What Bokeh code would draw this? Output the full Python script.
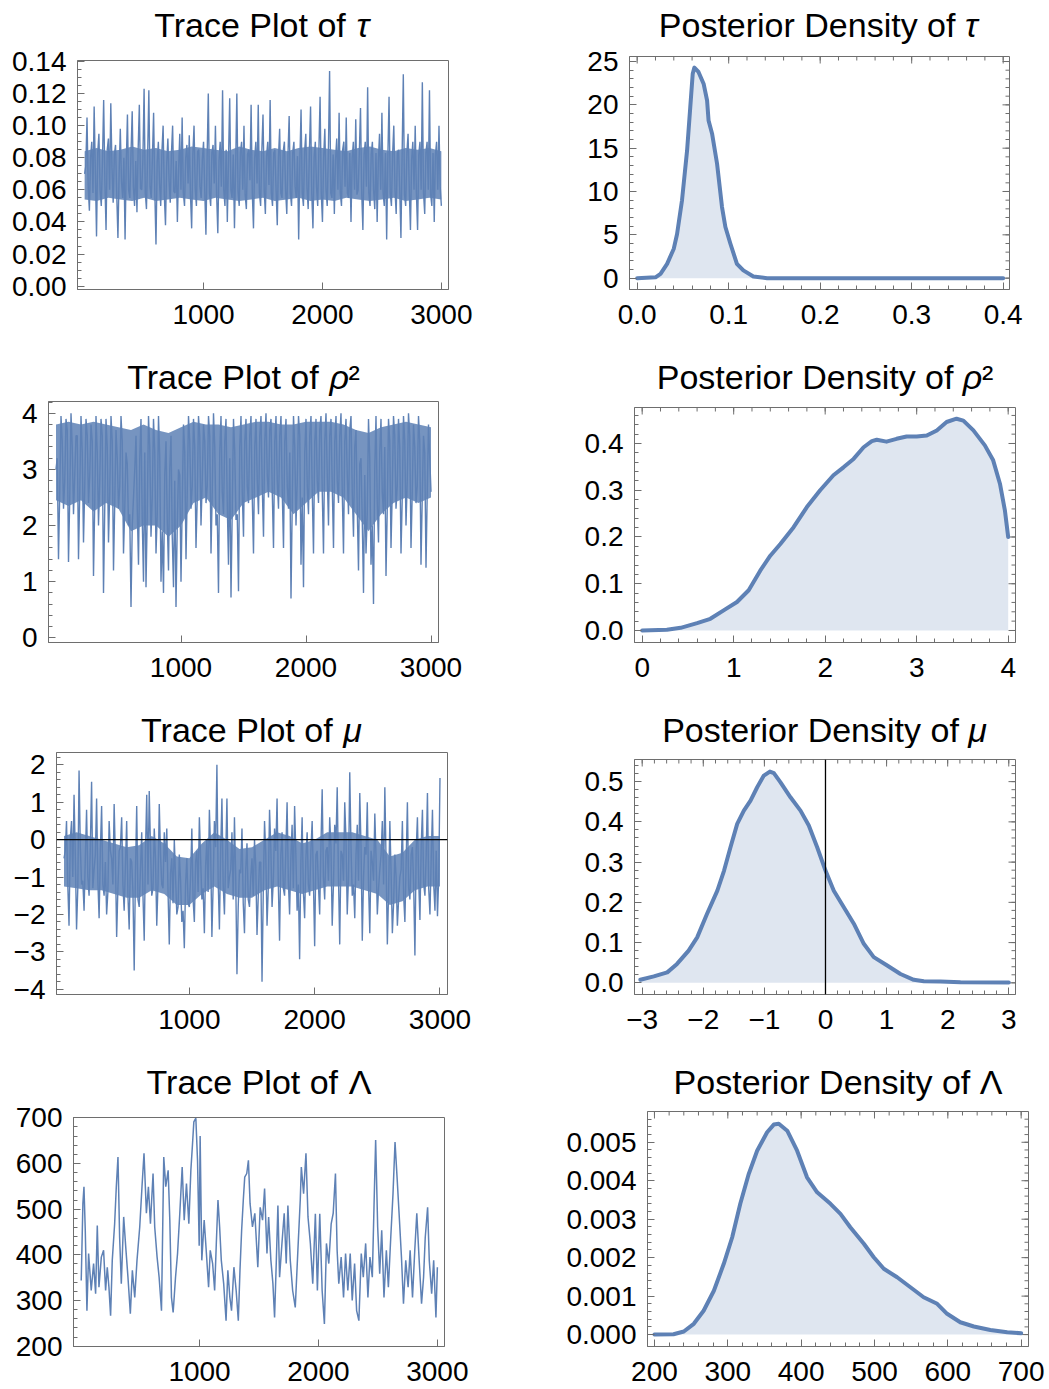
import numpy as np
from bokeh.plotting import figure
from bokeh.layouts import column, row
from bokeh.models import (FixedTicker, LinearAxis, Span, Range1d,
                          CustomJSTickFormatter)
from bokeh.core.properties import value
from bokeh.embed import file_html
from bokeh.resources import INLINE

BLUE = "#5E81B5"
FRAME = "#6E6E6E"
FONT = "Liberation Sans"
TICK_SIZE = "28px"
TITLE_PX = 34

# ---------------- data ----------------
# trace of tau: extremes every 20 iterations (0..3000) and the core values between them
tau_peaks = [
    0.07, 0.105, 0.047, 0.09, 0.112, 0.031, 0.095, 0.05, 0.116, 0.035,
    0.092, 0.114, 0.052, 0.088, 0.03, 0.098, 0.055, 0.029, 0.107, 0.055,
    0.109, 0.05, 0.046, 0.113, 0.06, 0.123, 0.048, 0.122, 0.055, 0.108,
    0.026, 0.09, 0.05, 0.1, 0.038, 0.092, 0.052, 0.1, 0.058, 0.04,
    0.095, 0.105, 0.05, 0.088, 0.094, 0.036, 0.1, 0.05, 0.085, 0.055,
    0.09, 0.032, 0.12, 0.05, 0.088, 0.1, 0.033, 0.09, 0.122, 0.05,
    0.04, 0.117, 0.055, 0.036, 0.12, 0.05, 0.09, 0.1, 0.048, 0.085,
    0.113, 0.036, 0.09, 0.113, 0.05, 0.107, 0.045, 0.09, 0.116, 0.05,
    0.085, 0.038, 0.098, 0.055, 0.09, 0.045, 0.106, 0.05, 0.09, 0.055,
    0.029, 0.11, 0.05, 0.095, 0.048, 0.112, 0.036, 0.09, 0.05, 0.118,
    0.04, 0.098, 0.05, 0.134, 0.055, 0.045, 0.092, 0.108, 0.05, 0.09,
    0.105, 0.055, 0.04, 0.09, 0.104, 0.06, 0.111, 0.035, 0.09, 0.124,
    0.05, 0.09, 0.048, 0.04, 0.095, 0.108, 0.05, 0.029, 0.118, 0.05,
    0.1, 0.045, 0.085, 0.03, 0.132, 0.05, 0.095, 0.035, 0.09, 0.1,
    0.035, 0.09, 0.127, 0.045, 0.09, 0.122, 0.05, 0.04, 0.09, 0.1,
    0.05]
tau_core = [
    0.075, 0.062, 0.08, 0.058, 0.072, 0.083, 0.06, 0.078, 0.066, 0.085,
    0.06, 0.074, 0.082, 0.057, 0.07, 0.065, 0.08, 0.076, 0.06, 0.083,
    0.062, 0.078, 0.085, 0.061, 0.079, 0.058, 0.082, 0.062, 0.08, 0.059,
    0.077, 0.064, 0.084, 0.057, 0.076, 0.066, 0.083, 0.059, 0.078, 0.072,
    0.06, 0.058, 0.08, 0.064, 0.057, 0.082, 0.061, 0.084, 0.062, 0.079,
    0.06, 0.08, 0.058, 0.083, 0.064, 0.057, 0.078, 0.062, 0.06, 0.085,
    0.079, 0.06, 0.082, 0.075, 0.059, 0.083, 0.06, 0.057, 0.082, 0.066,
    0.058, 0.08, 0.064, 0.058, 0.084, 0.06, 0.081, 0.063, 0.058, 0.083,
    0.06, 0.08, 0.058, 0.084, 0.06, 0.082, 0.058, 0.083, 0.062, 0.081,
    0.078, 0.058, 0.084, 0.061, 0.083, 0.058, 0.08, 0.062, 0.085, 0.058,
    0.08, 0.06, 0.084, 0.058, 0.082, 0.079, 0.06, 0.058, 0.085, 0.062,
    0.058, 0.083, 0.08, 0.06, 0.057, 0.083, 0.059, 0.082, 0.062, 0.058,
    0.082, 0.06, 0.083, 0.078, 0.06, 0.058, 0.083, 0.08, 0.058, 0.082,
    0.06, 0.083, 0.06, 0.082, 0.057, 0.083, 0.06, 0.079, 0.06, 0.058,
    0.082, 0.06, 0.058, 0.083, 0.06, 0.057, 0.083, 0.082, 0.06, 0.062]
# solid-looking core of the tau trace, every 100 iterations (0..3000)
tau_band_lo = [0.054, 0.053, 0.055, 0.054, 0.053, 0.055, 0.053, 0.054, 0.055,
               0.054, 0.053, 0.055, 0.054, 0.053, 0.054, 0.055, 0.053, 0.054,
               0.055, 0.053, 0.054, 0.053, 0.055, 0.054, 0.053, 0.054, 0.055,
               0.053, 0.054, 0.055, 0.054]
tau_band_hi = [0.084, 0.086, 0.084, 0.085, 0.087, 0.085, 0.086, 0.084, 0.085,
               0.087, 0.086, 0.085, 0.084, 0.087, 0.085, 0.084, 0.086, 0.084,
               0.086, 0.087, 0.086, 0.085, 0.084, 0.086, 0.087, 0.085, 0.084,
               0.086, 0.085, 0.086, 0.084]

rho_peaks = [
    3.0, 1.4, 3.95, 2.3, 3.9, 1.35, 4.0, 2.2, 3.6, 1.4,
    3.95, 1.7, 3.9, 2.4, 3.8, 1.1, 3.95, 2.0, 3.9, 0.8,
    3.9, 1.7, 3.95, 1.2, 3.7, 2.3, 3.95, 1.5, 3.3, 2.0,
    0.55, 2.5, 3.6, 1.3, 3.9, 1.0, 0.9, 3.95, 1.8, 3.9,
    1.5, 3.95, 1.0, 0.8, 3.5, 1.2, 3.6, 0.9, 0.55, 3.0,
    1.0, 3.8, 1.4, 3.95, 2.3, 3.9, 1.6, 3.95, 2.0, 3.8,
    2.4, 3.95, 1.5, 4.0, 2.0, 0.8, 3.95, 2.2, 3.9, 1.3,
    0.72, 3.9, 2.1, 0.83, 3.95, 1.8, 3.9, 2.4, 3.95, 1.5,
    3.9, 2.2, 3.95, 1.8, 4.0, 2.5, 3.9, 1.6, 3.95, 2.3,
    3.95, 1.6, 3.9, 2.3, 0.7, 3.95, 2.0, 3.95, 1.3, 0.9,
    3.9, 2.2, 3.95, 1.5, 3.9, 2.4, 3.95, 1.5, 4.0, 2.0,
    3.9, 1.6, 3.95, 2.4, 4.0, 1.5, 3.9, 2.2, 3.95, 1.8,
    3.7, 1.2, 3.2, 0.8, 1.5, 3.9, 1.3, 0.6, 3.95, 1.7,
    3.9, 2.2, 1.1, 3.9, 1.6, 3.95, 2.3, 3.9, 1.5, 3.95,
    2.0, 4.0, 1.6, 3.8, 2.4, 3.95, 1.3, 3.6, 1.25, 3.8,
    2.6]
rho_core = [
    3.2, 2.6, 3.5, 2.8, 3.7, 2.5, 3.4, 2.9, 3.6, 2.6,
    3.3, 2.7, 3.6, 2.9, 3.5, 2.4, 3.3, 2.8, 3.6, 2.3,
    3.4, 2.6, 3.5, 2.4, 3.2, 2.7, 3.5, 2.3, 3.1, 2.2,
    2.0, 3.0, 2.3, 3.2, 2.1, 3.3, 2.2, 3.4, 2.5, 3.3,
    2.2, 3.2, 1.9, 2.9, 2.1, 3.0, 1.8, 2.8, 2.0, 2.9,
    2.4, 3.3, 2.6, 3.5, 2.7, 3.4, 2.5, 3.6, 2.8, 3.5,
    2.7, 3.6, 2.6, 3.4, 2.2, 3.3, 2.6, 3.5, 2.4, 3.2,
    2.3, 3.3, 2.2, 3.4, 2.6, 3.5, 2.7, 3.6, 2.5, 3.4,
    2.8, 3.6, 2.7, 3.5, 2.9, 3.7, 2.6, 3.5, 2.8, 3.6,
    2.6, 3.5, 2.7, 3.3, 2.4, 3.4, 2.8, 3.6, 2.5, 3.3,
    2.7, 3.6, 2.6, 3.5, 2.8, 3.7, 2.6, 3.5, 2.9, 3.6,
    2.7, 3.5, 2.8, 3.6, 2.6, 3.5, 2.9, 3.7, 2.6, 3.4,
    2.3, 3.1, 2.1, 2.9, 2.2, 3.2, 2.0, 3.0, 2.4, 3.3,
    2.6, 3.4, 2.3, 3.5, 2.6, 3.6, 2.7, 3.4, 2.5, 3.5,
    2.8, 3.6, 2.6, 3.4, 2.7, 3.5, 2.5, 3.3, 2.6, 3.2]
rho_band_lo = [2.45, 2.35, 2.45, 2.25, 2.4, 2.3, 1.9, 2.0, 2.0, 1.8, 2.0, 2.4,
               2.5, 2.2, 2.1, 2.4, 2.5, 2.6, 2.5, 2.2, 2.4, 2.6, 2.6, 2.5, 2.2,
               1.9, 2.2, 2.4, 2.5, 2.4, 2.5]
rho_band_hi = [3.8, 3.85, 3.8, 3.85, 3.8, 3.75, 3.7, 3.8, 3.7, 3.65, 3.75,
               3.85, 3.8, 3.8, 3.75, 3.8, 3.85, 3.85, 3.8, 3.8, 3.85, 3.85,
               3.85, 3.8, 3.7, 3.65, 3.75, 3.8, 3.85, 3.8, 3.75]

mu_peaks = [
    -0.5, 0.5, -2.3, 0.5, 1.2, -2.4, 1.85, -1.2, -1.9, 0.8,
    -1.5, 1.55, -0.8, 1.1, -2.1, 0.9, -1.5, -2.0, 0.5, -0.5,
    0.95, -2.6, -0.3, 0.6, -1.9, 0.5, -2.4, -0.6, -3.5, 0.9,
    -1.8, 0.2, -2.7, 1.2, 1.3, -1.5, 0.3, -2.3, 0.95, -1.2,
    0.2, 0.3, -2.8, -0.5, 0.0, -2.0, -0.4, -2.2, -2.9, -0.5,
    -1.8, 0.3, -2.2, -0.3, 0.6, -1.6, -2.5, 0.0, 0.8, -2.6,
    0.5, 2.0, -2.4, 1.1, -2.0, 1.1, -1.0, 0.2, 0.6, -3.6,
    -0.8, 0.3, -2.5, -0.1, -1.8, -0.5, 0.0, -2.55, -0.6, -3.8,
    0.5, -2.3, 0.8, -1.8, 0.3, 1.1, -2.7, 0.2, -1.5, 1.0,
    -2.0, 0.4, 0.9, -1.9, -3.2, 0.6, -2.1, 0.2, -1.5, 0.5,
    -2.85, -0.3, -2.0, 1.35, -1.6, -0.2, 0.6, -2.3, 0.4, 1.4,
    -2.8, -0.4, 1.0, -2.0, 1.8, -1.5, -2.1, 0.4, 1.25, -2.7,
    -0.2, 1.0, -2.5, -0.6, 0.7, -2.0, -0.8, 0.5, 1.4, -2.8,
    0.5, -2.5, -0.4, -2.3, -1.0, 0.5, -2.2, 1.0, -1.6, -0.2,
    -3.1, 0.6, -2.15, 0.8, -1.5, 1.25, -2.0, 0.8, -1.9, -2.05,
    1.65]
mu_core = [
    -0.3, -1.2, 0.0, -1.0, -0.4, -1.3, -0.2, -1.1, -0.5, -1.0,
    -0.2, -1.3, -0.4, -1.1, -0.3, -1.2, -0.6, -1.4, -0.3, -1.2,
    -0.5, -1.3, -0.2, -1.2, -0.7, -1.5, -0.5, -1.4, -0.9, -1.6,
    -0.8, -1.5, -0.3, -1.2, -0.2, -1.3, -0.5, -1.2, -0.4, -1.3,
    -0.6, -1.4, -0.9, -1.7, -1.0, -1.8, -1.1, -1.9, -1.2, -1.7,
    -1.0, -1.6, -0.6, -1.4, -0.5, -1.3, -0.7, -1.4, -0.3, -1.2,
    -0.2, -1.1, -0.3, -1.2, -0.5, -1.3, -0.8, -1.6, -1.0, -1.8,
    -0.9, -1.7, -0.8, -1.6, -1.0, -1.5, -0.7, -1.5, -0.6, -1.4,
    -0.4, -1.3, -0.2, -1.1, -0.3, -1.2, -0.4, -1.3, -0.3, -1.1,
    -0.5, -1.3, -0.4, -1.2, -0.6, -1.4, -0.5, -1.2, -0.3, -1.1,
    -0.4, -1.2, -0.2, -1.0, -0.3, -1.1, -0.2, -1.2, -0.1, -1.0,
    -0.3, -1.1, 0.0, -1.0, -0.2, -1.2, -0.4, -1.1, -0.2, -1.0,
    -0.4, -1.2, -0.3, -1.1, -0.5, -1.3, -0.4, -1.2, -0.6, -1.4,
    -0.9, -1.7, -1.0, -1.6, -0.8, -1.5, -0.6, -1.3, -0.4, -1.2,
    -0.3, -1.1, -0.2, -1.2, -0.4, -1.3, -0.5, -1.2, -0.3, -1.0]
mu_band_lo = [-1.25, -1.3, -1.35, -1.35, -1.45, -1.55, -1.55, -1.35, -1.45,
              -1.75, -1.75, -1.45, -1.25, -1.45, -1.55, -1.55, -1.35, -1.25,
              -1.35, -1.45, -1.35, -1.25, -1.25, -1.25, -1.35, -1.45, -1.75,
              -1.65, -1.35, -1.25, -1.25]
mu_band_hi = [0.1, 0.2, 0.1, 0.0, -0.1, -0.2, -0.15, 0.1, -0.1, -0.45,
              -0.5, -0.1, 0.2, 0.0, -0.25, -0.2, 0.0, 0.2, 0.1, -0.1, 0.0,
              0.2, 0.2, 0.2, 0.1, 0.0, -0.45, -0.35, 0.0, 0.1, 0.1]

lam_iter = [5, 19, 28, 39, 53, 67, 89, 109, 126, 140, 154, 174, 193, 210, 224,
            238, 252, 266, 286, 300, 314, 328, 342, 362, 379, 398, 418, 435,
            455, 474, 497, 516, 533, 553, 570, 587, 609, 623, 643, 660, 680,
            699, 716, 736, 750, 764, 778, 798, 815, 834, 854, 871, 890, 910,
            927, 941, 952, 969, 983, 997, 1005, 1019, 1039, 1056, 1076, 1090,
            1110, 1127, 1141, 1155, 1169, 1183, 1203, 1223, 1238, 1255, 1269,
            1289, 1308, 1326, 1340, 1354, 1368, 1380, 1397, 1411, 1425, 1445,
            1465, 1490, 1510, 1530, 1547, 1567, 1581, 1600, 1617, 1631, 1645,
            1659, 1673, 1693, 1712, 1729, 1743, 1763, 1783, 1805, 1827, 1847,
            1856, 1875, 1895, 1912, 1932, 1952, 1974, 1991, 2011, 2031, 2050,
            2067, 2087, 2107, 2124, 2143, 2157, 2171, 2191, 2211, 2228, 2247,
            2267, 2284, 2304, 2321, 2340, 2360, 2377, 2397, 2416, 2433, 2453,
            2467, 2481, 2498, 2515, 2532, 2551, 2571, 2588, 2608, 2627, 2644,
            2661, 2678, 2698, 2715, 2734, 2754, 2771, 2791, 2810, 2827, 2847,
            2867, 2884, 2898, 2918, 2932, 2952, 2969, 2988, 3000]
lam_trace = [344, 512, 549, 454, 278, 403, 322, 381, 315, 464, 329, 395, 410,
             322, 373, 329, 267, 388, 468, 549, 614, 438, 337, 483, 418, 351,
             271, 366, 307, 388, 461, 549, 622, 491, 549, 468, 578, 461, 395,
             351, 278, 614, 549, 585, 476, 307, 274, 351, 403, 491, 592, 476,
             556, 468, 585, 643, 691, 699, 607, 420, 660, 388, 476, 410, 329,
             410, 381, 322, 425, 520, 461, 388, 337, 256, 366, 307, 278, 373,
             322, 256, 366, 454, 520, 570, 578, 607, 512, 461, 491, 373, 504,
             476, 545, 403, 483, 388, 337, 263, 381, 508, 351, 425, 491, 381,
             508, 388, 322, 285, 410, 520, 592, 534, 622, 483, 425, 337, 490,
             322, 490, 322, 249, 425, 381, 468, 491, 578, 410, 337, 395, 307,
             403, 322, 403, 300, 381, 278, 256, 403, 351, 425, 307, 395, 351,
             504, 651, 461, 359, 454, 307, 410, 329, 438, 534, 647, 570, 491,
             395, 293, 388, 329, 410, 307, 410, 491, 388, 293, 351, 438, 504,
             388, 315, 388, 263, 373]

# posterior densities
tau_x = [0.0, 0.02, 0.0255, 0.0327, 0.04, 0.0436, 0.049, 0.0545, 0.058, 0.0607,
         0.0625, 0.067, 0.0727, 0.0764, 0.078, 0.0818, 0.0873, 0.0927, 0.0964,
         0.1018, 0.109, 0.116, 0.127, 0.142, 0.4]
tau_y = [0.0, 0.1, 0.5, 1.65, 3.4, 5.1, 9.0, 14.7, 19.7, 23.6, 24.3, 23.8,
         22.4, 20.5, 18.2, 16.7, 13.2, 8.2, 5.9, 4.0, 1.65, 0.9, 0.2, 0.0, 0.0]

rho_x = [0.0, 0.27, 0.42, 0.6, 0.745, 0.89, 1.036, 1.164, 1.29, 1.4, 1.51,
         1.655, 1.8, 1.945, 2.09, 2.2, 2.31, 2.42, 2.51, 2.564, 2.67, 2.78,
         2.89, 3.0, 3.11, 3.22, 3.327, 3.436, 3.51, 3.62, 3.745, 3.836, 3.91,
         3.964, 4.0]
rho_y = [0.0, 0.0014, 0.0057, 0.0157, 0.025, 0.043, 0.061, 0.086, 0.128, 0.16,
         0.185, 0.221, 0.264, 0.3, 0.332, 0.349, 0.367, 0.392, 0.405, 0.408,
         0.404, 0.41, 0.415, 0.415, 0.417, 0.428, 0.446, 0.453, 0.449, 0.428,
         0.396, 0.364, 0.314, 0.257, 0.2]

mu_x = [-3.03, -2.81, -2.59, -2.43, -2.24, -2.1, -1.94, -1.77, -1.66, -1.555,
        -1.445, -1.336, -1.227, -1.118, -1.009, -0.91, -0.845, -0.736, -0.573,
        -0.409, -0.273, -0.136, 0.0, 0.136, 0.3, 0.464, 0.627, 0.79, 1.01,
        1.227, 1.445, 1.61, 1.88, 2.21, 3.0]
mu_y = [0.0075, 0.016, 0.026, 0.047, 0.08, 0.113, 0.171, 0.229, 0.279, 0.337,
        0.395, 0.428, 0.453, 0.486, 0.515, 0.525, 0.521, 0.498, 0.461, 0.428,
        0.391, 0.337, 0.279, 0.229, 0.188, 0.147, 0.097, 0.064, 0.043, 0.022,
        0.0075, 0.004, 0.0033, 0.0017, 0.0008]

lam_x = [200, 226, 240, 253.6, 267, 281, 294.5, 306, 317, 328.6, 340, 353.6,
         362.7, 369.5, 381, 394.5, 408, 421.8, 440, 453.6, 467, 485.5, 499,
         512.7, 530.9, 549, 567, 585.5, 599, 617, 635.5, 658, 681, 700]
lam_y = [0.0, 0.00001, 0.00008, 0.00028, 0.00062, 0.00114, 0.00184, 0.00253,
         0.0034, 0.00418, 0.00478, 0.00526, 0.00546, 0.00548, 0.0053, 0.00478,
         0.00409, 0.0037, 0.0034, 0.00314, 0.00279, 0.00236, 0.00201, 0.00171,
         0.00149, 0.00123, 0.00097, 0.0008, 0.00054, 0.00032, 0.00021, 0.00012,
         0.00006, 0.000035]

# tick values
trace_xticks = [1000, 2000, 3000]
tau_trace_yticks = [0.0, 0.02, 0.04, 0.06, 0.08, 0.10, 0.12, 0.14]
rho_trace_yticks = [0, 1, 2, 3, 4]
mu_trace_yticks = [-4, -3, -2, -1, 0, 1, 2]
lam_trace_yticks = [200, 300, 400, 500, 600, 700]
tau_dens_xticks = [0.0, 0.1, 0.2, 0.3, 0.4]
tau_dens_yticks = [0, 5, 10, 15, 20, 25]
rho_dens_xticks = [0, 1, 2, 3, 4]
rho_dens_yticks = [0.0, 0.1, 0.2, 0.3, 0.4]
mu_dens_xticks = [-3, -2, -1, 0, 1, 2, 3]
mu_dens_yticks = [0.0, 0.1, 0.2, 0.3, 0.4, 0.5]
lam_dens_xticks = [200, 300, 400, 500, 600, 700]
lam_dens_yticks = [0.0, 0.001, 0.002, 0.003, 0.004, 0.005]


def interleave(peaks, core):
    out = []
    for a, b in zip(peaks, core):
        out += [a, b]
    out.append(peaks[-1])
    return out


dense_iter = list(range(0, 3001, 10))
band_iter = list(range(0, 3001, 100))

# ---------------- helpers ----------------
CHAR_W = {' ': 278, 'T': 611, 'r': 333, 'a': 556, 'c': 500, 'e': 556,
          'P': 667, 'l': 222, 'o': 556, 't': 278, 'f': 278, 's': 500,
          'i': 222, 'D': 722, 'n': 556, 'y': 500, '²': 333, 'τ': 450,
          'ρ': 560, 'μ': 576, 'Λ': 667}
BASELINE_FIX = 12   # the text glyph sits this many px lower than the requested baseline


def text_w(s, size):
    return sum(CHAR_W.get(ch, 556) for ch in s) / 1000.0 * size


def minor_list(lo, hi, step):
    n = int(round((hi - lo) / step))
    return [lo + k * step for k in range(n + 1)]


def fmt(dec):
    return CustomJSTickFormatter(args=dict(d=dec),
                                 code="return tick.toFixed(d).replace('-', '\u2212');")


def style_axis(ax, dec=0, standoff=11):
    ax.axis_line_color = FRAME
    ax.axis_line_width = 1
    ax.major_tick_line_color = FRAME
    ax.minor_tick_line_color = FRAME
    ax.major_tick_in = 7
    ax.major_tick_out = 0
    ax.minor_tick_in = 4
    ax.minor_tick_out = 0
    ax.major_label_text_font = FONT
    ax.major_label_text_font_size = TICK_SIZE
    ax.major_label_text_color = "black"
    ax.major_label_standoff = standoff
    ax.formatter = fmt(dec)


def title_fig(w, ht, L, R, parts, baseline):
    t = figure(width=w, height=ht, x_range=Range1d(L, R), y_range=Range1d(ht, 0),
               output_backend="svg", toolbar_location=None, title=None,
               x_axis_type=None, y_axis_type=None,
               min_border_left=L, min_border_right=w - R,
               min_border_top=0, min_border_bottom=0)
    t.outline_line_color = None
    t.grid.visible = False
    total = sum(text_w(s, TITLE_PX) for s, _ in parts)
    x0 = (L + R) / 2.0 - total / 2.0
    for s, style in parts:
        t.text(x=[x0], y=[baseline - BASELINE_FIX], text=[s], text_font=value(FONT),
               text_font_size=value("%dpx" % TITLE_PX),
               text_font_style=value(style), text_color="black",
               text_align="left", text_baseline="alphabetic")
        x0 += text_w(s, TITLE_PX)
    return t


def panel(w, h, ht, frame, xr, yr, xt, xminor, xdec, yt, yminor, ydec,
          title_parts, baseline, all_sides):
    L, T, R, B = frame
    p = figure(width=w, height=h - ht, x_range=Range1d(*xr), y_range=Range1d(*yr),
               output_backend="svg", toolbar_location=None, title=None,
               x_axis_type=None, y_axis_type=None,
               min_border_left=L, min_border_right=w - R,
               min_border_top=T - ht, min_border_bottom=h - B)
    p.grid.visible = False
    p.outline_line_color = FRAME
    p.outline_line_width = 1
    p.background_fill_color = "white"
    p.border_fill_color = "white"

    xa = LinearAxis(ticker=FixedTicker(ticks=xt, minor_ticks=xminor))
    ya = LinearAxis(ticker=FixedTicker(ticks=yt, minor_ticks=yminor))
    style_axis(xa, xdec, standoff=15)
    style_axis(ya, ydec, standoff=11)
    p.add_layout(xa, "below")
    p.add_layout(ya, "left")
    if all_sides:
        for ticks, ln in ((xt, 7), (xminor, 4)):
            p.ray(x=ticks, y=[yr[1]] * len(ticks), length=ln, length_units="screen",
                  angle=-np.pi / 2, line_color=FRAME, line_width=1)
        for ticks, ln in ((yt, 7), (yminor, 4)):
            p.ray(x=[xr[1]] * len(ticks), y=ticks, length=ln, length_units="screen",
                  angle=np.pi, line_color=FRAME, line_width=1)
    t = title_fig(w, ht, L, R, title_parts, baseline)
    return p, t


def trace_panel(w, h, ht, frame, xs, y, yt, yminor, ydec, parts, baseline, yr, lw,
                band=None):
    p, t = panel(w, h, ht, frame, (-60, 3060), yr, trace_xticks, [], 0,
                 yt, yminor, ydec, parts, baseline, False)
    if band is not None:
        p.varea(x=band_iter, y1=band[0], y2=band[1], fill_color=BLUE, fill_alpha=0.85)
    p.line(xs, y, line_color=BLUE, line_width=lw)
    return p, t


def dens_panel(w, h, ht, frame, x, y, xr, yr, xt, xminor, xdec, yt, yminor,
               ydec, parts, baseline):
    p, t = panel(w, h, ht, frame, xr, yr, xt, xminor, xdec, yt, yminor, ydec,
                 parts, baseline, True)
    p.varea(x=x, y1=[0] * len(y), y2=y, fill_color=BLUE, fill_alpha=0.2)
    p.line(x, y, line_color=BLUE, line_width=4, line_join="round", line_cap="round")
    return p, t


N, I = "normal", "italic"

p1, t1 = trace_panel(540, 350, 44, (77, 60, 448, 289), dense_iter,
                     interleave(tau_peaks, tau_core), tau_trace_yticks,
                     minor_list(0.0, 0.14, 0.005), 2,
                     [("Trace Plot of ", N), ("τ", I)], 36, (-0.0021, 0.1406), 1.4,
                     band=(tau_band_lo, tau_band_hi))
p2, t2 = dens_panel(509, 350, 44, (89, 56, 469, 289), tau_x, tau_y,
                    (-0.0084, 0.4069), (-1.31, 25.58), tau_dens_xticks,
                    minor_list(0.0, 0.4, 0.02), 1, tau_dens_yticks,
                    minor_list(0, 25, 1), 0,
                    [("Posterior Density of ", N), ("τ", I)], 36)

p3, t3 = trace_panel(540, 350, 46, (48, 51, 438, 292), dense_iter,
                     interleave(rho_peaks, rho_core), rho_trace_yticks,
                     minor_list(0, 4.2, 0.2), 0,
                     [("Trace Plot of ", N), ("ρ", I), ("²", N)], 38,
                     (-0.084, 4.21), 1.4, band=(rho_band_lo, rho_band_hi))
p4, t4 = dens_panel(509, 350, 46, (94, 57, 475, 292), rho_x, rho_y,
                    (-0.084, 4.08), (-0.0257, 0.477), rho_dens_xticks,
                    minor_list(0, 4.0, 0.2), 0, rho_dens_yticks,
                    minor_list(0, 0.46, 0.02), 1,
                    [("Posterior Density of ", N), ("ρ", I), ("²", N)], 38)

p5, t5 = trace_panel(540, 350, 48, (56, 52, 447, 294), dense_iter,
                     interleave(mu_peaks, mu_core), mu_trace_yticks,
                     minor_list(-4.0, 2.2, 0.2), 0,
                     [("Trace Plot of ", N), ("μ", I)], 41, (-4.14, 2.33), 1.4,
                     band=(mu_band_lo, mu_band_hi))
p5.add_layout(Span(location=0, dimension="width", line_color="black", line_width=1.3))
p6, t6 = dens_panel(509, 350, 48, (94, 59, 475, 294), mu_x, mu_y,
                    (-3.126, 3.11), (-0.029, 0.555), mu_dens_xticks,
                    minor_list(-3.0, 3.0, 0.2), 0, mu_dens_yticks,
                    minor_list(0, 0.54, 0.02), 1,
                    [("Posterior Density of ", N), ("μ", I)], 41)
p6.add_layout(Span(location=0, dimension="height", line_color="black", line_width=1.3))

p7, t7 = trace_panel(540, 339, 51, (73, 67, 444, 296), lam_iter, lam_trace,
                     lam_trace_yticks, minor_list(200, 700, 20), 0,
                     [("Trace Plot of ", N), ("Λ", N)], 43, (199.5, 700.5), 1.5)
p8, t8 = dens_panel(509, 339, 51, (107, 61, 488, 296), lam_x, lam_y,
                    (190.5, 710), (-0.00031, 0.0058), lam_dens_xticks,
                    minor_list(200, 700, 20), 0, lam_dens_yticks,
                    minor_list(0, 0.0058, 0.0002), 3,
                    [("Posterior Density of ", N), ("Λ", N)], 43)

layout = column(row(column(t1, p1), column(t2, p2)),
                row(column(t3, p3), column(t4, p4)),
                row(column(t5, p5), column(t6, p6)),
                row(column(t7, p7), column(t8, p8)))
open("out.html", "w").write(file_html(layout, INLINE))
